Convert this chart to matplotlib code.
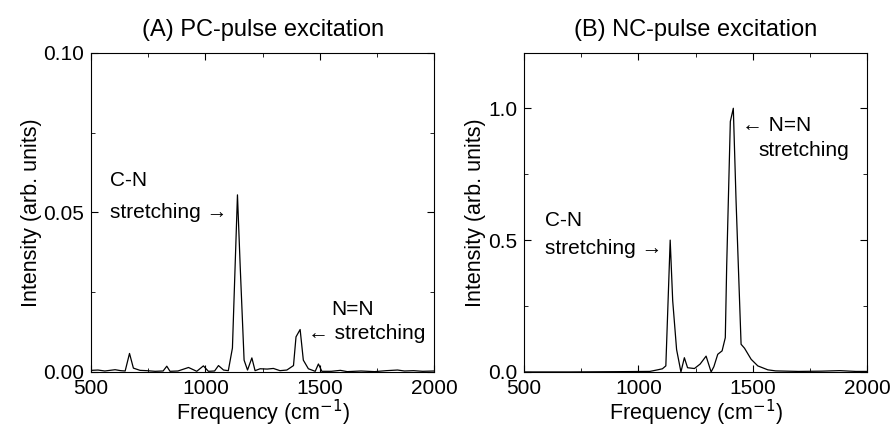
import numpy as np
import matplotlib.pyplot as plt
from matplotlib.ticker import MultipleLocator

plt.rcParams['font.family'] = ['Liberation Sans', 'DejaVu Sans']

# spectrum (A): PC-pulse excitation
freq_a = [500, 530, 560, 605, 630, 649, 668, 685, 714, 743, 780, 815, 831, 845, 880,
          926, 962, 991, 1013, 1040, 1057, 1079, 1100, 1118, 1140, 1152, 1169, 1184,
          1203, 1217, 1239, 1270, 1297, 1326, 1356, 1385, 1396, 1414, 1428, 1450,
          1480, 1494, 1509, 1550, 1590, 1620, 1680, 1740, 1790, 1840, 1870, 1910,
          1950, 2000]
int_a = [0.0005, 0.0006, 0.0003, 0.0007, 0.0004, 0.0003, 0.0058, 0.0012, 0.0005, 0.0004,
         0.0002, 0.0003, 0.0018, 0.0002, 0.0003, 0.0014, 0.0002, 0.0019, 0.0002, 0.0003,
         0.0020, 0.0006, 0.0004, 0.0075, 0.0555, 0.0330, 0.0037, 0.0006, 0.0044, 0.0004,
         0.0010, 0.0009, 0.0011, 0.0004, 0.0006, 0.0020, 0.0110, 0.0133, 0.0037, 0.0010,
         0.0002, 0.0025, 0.0002, 0.0002, 0.0005, 0.0001, 0.0003, 0.0001, 0.0004, 0.0006,
         0.0003, 0.0004, 0.0002, 0.0003]

# spectrum (B): NC-pulse excitation
freq_b = [500, 700, 900, 1050, 1084, 1105, 1120, 1139, 1150, 1167, 1186, 1201, 1215,
          1245, 1270, 1296, 1318, 1330, 1347, 1366, 1380, 1386, 1402, 1415, 1427, 1449,
          1464, 1493, 1522, 1566, 1600, 1700, 1800, 1880, 1950, 2000]
int_b = [0.0, 0.0, 0.001, 0.002, 0.008, 0.012, 0.023, 0.50, 0.27, 0.085, 0.0, 0.054,
         0.016, 0.013, 0.03, 0.06, 0.0, 0.02, 0.067, 0.08, 0.13, 0.40, 0.95, 1.0, 0.65,
         0.105, 0.09, 0.048, 0.023, 0.008, 0.004, 0.002, 0.003, 0.005, 0.002, 0.002]

fs = 15

fig, (ax1, ax2) = plt.subplots(1, 2, figsize=(8.93, 4.30), dpi=100)
fig.subplots_adjust(left=0.102, right=0.971, top=0.877, bottom=0.135, wspace=0.262)

ax1.plot(freq_a, int_a, color='black', lw=0.9)
ax2.plot(freq_b, int_b, color='black', lw=0.9)

for ax in (ax1, ax2):
    ax.set_xlim(500, 2000)
    ax.xaxis.set_major_locator(MultipleLocator(500))
    ax.xaxis.set_minor_locator(MultipleLocator(250))
    ax.tick_params(which='both', direction='in', top=True, right=True, labelsize=fs)
    ax.tick_params(axis='x', pad=5)
    ax.tick_params(axis='y', pad=5)
    ax.tick_params(which='major', length=5)
    ax.tick_params(which='minor', length=3)
    ax.set_xlabel('Frequency (cm$^{-1}$)', fontsize=fs + 0.5, labelpad=0)
    ax.set_ylabel('Intensity (arb. units)', fontsize=fs + 0.5, labelpad=1)
    for s in ax.spines.values():
        s.set_linewidth(0.8)

ax1.set_ylim(0, 0.10)
ax1.yaxis.set_major_locator(MultipleLocator(0.05))
ax1.yaxis.set_minor_locator(MultipleLocator(0.025))
ax1.yaxis.set_major_formatter(plt.FormatStrFormatter('%.2f'))
ax1.set_title('(A) PC-pulse excitation', fontsize=17, pad=12)
ax1.text(583, 0.0600, 'C-N', fontsize=fs, va='center')
ax1.text(583, 0.0500, 'stretching \u2192', fontsize=fs, va='center')
ax1.text(1550, 0.0197, 'N=N', fontsize=fs, va='center')
ax1.text(1449, 0.0122, '\u2190 stretching', fontsize=fs, va='center')

ax2.set_ylim(0, 1.21)
ax2.yaxis.set_major_locator(MultipleLocator(0.5))
ax2.yaxis.set_minor_locator(MultipleLocator(0.25))
ax2.yaxis.set_major_formatter(plt.FormatStrFormatter('%.1f'))
ax2.set_title('(B) NC-pulse excitation', fontsize=17, pad=12)
ax2.text(592, 0.575, 'C-N', fontsize=fs, va='center')
ax2.text(592, 0.47, 'stretching \u2192', fontsize=fs, va='center')
ax2.text(1452, 0.936, '\u2190 N=N', fontsize=fs, va='center')
ax2.text(1526, 0.84, 'stretching', fontsize=fs, va='center')

fig.savefig('out.png', dpi=100)
